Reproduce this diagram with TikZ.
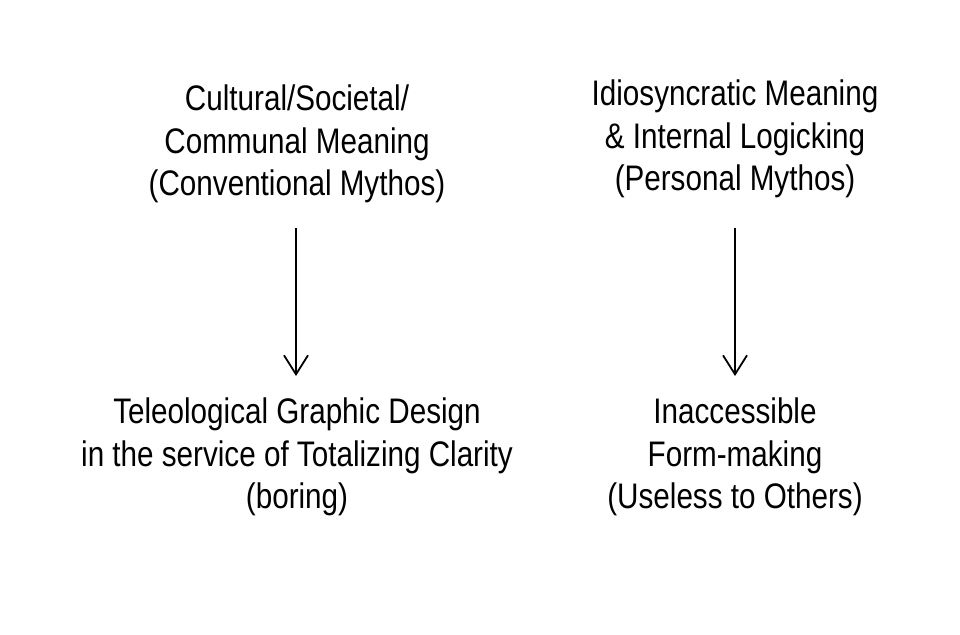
\documentclass[tikz,border=0pt]{standalone}
\usepackage{fontspec}
\setmainfont[FakeStretch=0.835]{Liberation Sans}
\usetikzlibrary{arrows.meta}
\begin{document}
\begin{tikzpicture}[x=1pt,y=-1pt,
  lbl/.style={align=center,inner sep=0pt,font=\fontsize{35.5}{42.5}\selectfont},
  conn/.style={line width=1.8pt,-{Straight Barb[length=19pt,width=24pt,line width=1.8pt]}}]
\useasboundingbox[fill=white] (0,0) rectangle (960,634);
\node[lbl] (cult) at (297,144) {Cultural/Societal/\\Communal Meaning\\(Conventional Mythos)};
\node[lbl] (idio) at (735,139) {Idiosyncratic Meaning\\\& Internal Logicking\\(Personal Mythos)};
\node[lbl] (tele) at (297,457) {Teleological Graphic Design\\in the service of Totalizing Clarity\\(boring)};
\node[lbl] (inac) at (735,457) {Inaccessible\\Form-making\\(Useless to Others)};
\coordinate (a1s) at (296,228);
\coordinate (a1e) at (296,376);
\coordinate (a2s) at (735,228);
\coordinate (a2e) at (735,376);
\draw[conn] (a1s) -- (a1e);
\draw[conn] (a2s) -- (a2e);
\end{tikzpicture}
\end{document}
